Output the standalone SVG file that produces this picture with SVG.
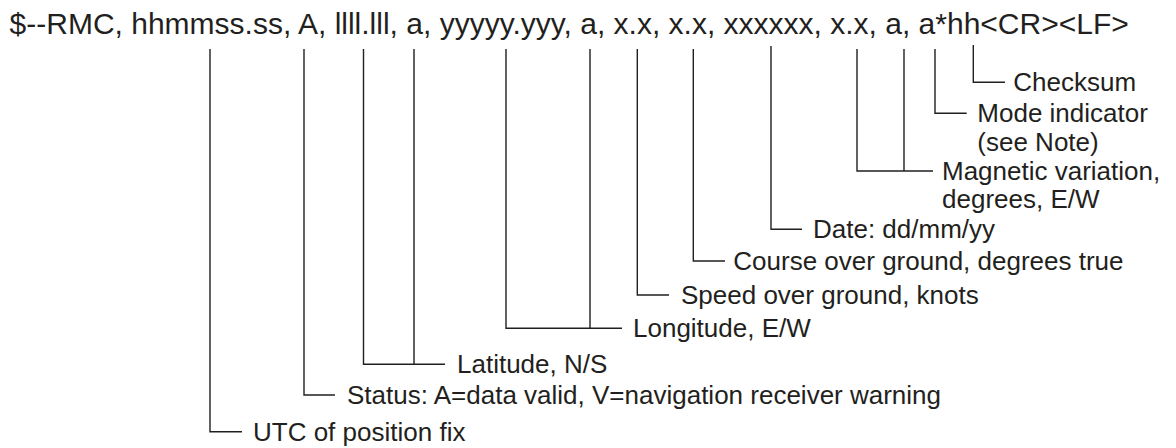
<svg xmlns="http://www.w3.org/2000/svg" width="1176" height="448" viewBox="0 0 1176 448">
<style>
.hdr{font-family:"Liberation Sans",Arial,sans-serif;font-size:30px;fill:#231f20}
.lbl{font-family:"Liberation Sans",Arial,sans-serif;font-size:26px;fill:#231f20}
.ln{fill:none;stroke:#231f20;stroke-width:1.4}
</style>
<rect width="1176" height="448" fill="#ffffff"/>
<g id="header"><text class="hdr" x="9.6" y="33.5">$--RMC, hhmmss.ss, A, llll.lll, a, yyyyy.yyy, a, x.x, x.x, xxxxxx, x.x, a, a*hh&lt;CR&gt;&lt;LF&gt;</text></g>
<g id="connectors">
<path class="ln" d="M210 49V431.7H242"/>
<path class="ln" d="M304 49V395H335"/>
<path class="ln" d="M363.5 49V364.3H445M414 49V364.3"/>
<path class="ln" d="M506 49V328.3H622M590 49V328.3"/>
<path class="ln" d="M637.3 49V295H669"/>
<path class="ln" d="M693.3 49V261H725"/>
<path class="ln" d="M771 46V229.3H802"/>
<path class="ln" d="M857 49V171H933M904 49V171"/>
<path class="ln" d="M935 49V113.3H966.7"/>
<path class="ln" d="M973.3 45V82.3H1005"/>
</g>
<g id="utc"><text class="lbl" x="253" y="440.5">UTC of position fix</text></g>
<g id="status"><text class="lbl" x="347" y="403.5">Status: A=data valid, V=navigation receiver warning</text></g>
<g id="latitude"><text class="lbl" x="457" y="373">Latitude, N/S</text></g>
<g id="longitude"><text class="lbl" x="633" y="337">Longitude, E/W</text></g>
<g id="speed"><text class="lbl" x="681" y="303.5">Speed over ground, knots</text></g>
<g id="course"><text class="lbl" x="733.3" y="269.5">Course over ground, degrees true</text></g>
<g id="date"><text class="lbl" x="813" y="238">Date: dd/mm/yy</text></g>
<g id="magvar"><text class="lbl" x="942" y="179.5">Magnetic variation,</text><text class="lbl" x="942" y="208">degrees, E/W</text></g>
<g id="mode"><text class="lbl" x="977.3" y="122">Mode indicator</text><text class="lbl" x="977.3" y="150.5">(see Note)</text></g>
<g id="checksum"><text class="lbl" x="1013.3" y="90.5">Checksum</text></g>
</svg>
